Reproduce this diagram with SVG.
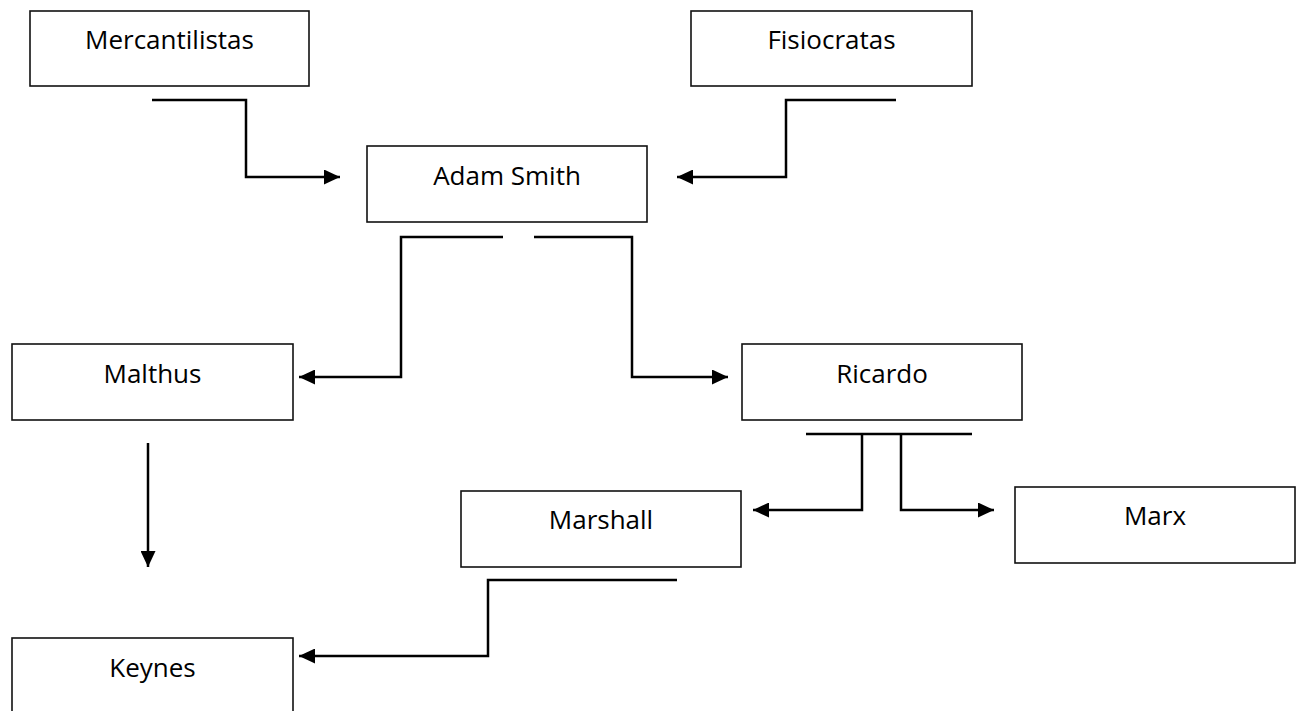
<svg xmlns="http://www.w3.org/2000/svg" width="1300" height="711" viewBox="0 0 1300 711">
<style>
.box{fill:#fff;stroke:#111;stroke-width:1.6}
.lbl{font-family:"Open Sans","Liberation Sans",sans-serif;font-size:26px;fill:#000;text-anchor:middle}
.con{fill:none;stroke:#000;stroke-width:2.5}
.arr{marker-end:url(#ah)}
</style>
<defs>
<marker id="ah" viewBox="0 0 16 15" refX="16" refY="7.5" markerWidth="16" markerHeight="15" markerUnits="userSpaceOnUse" orient="auto">
<path d="M0,0 L16,7.5 L0,15 z" fill="#000"/>
</marker>
</defs>
<rect width="1300" height="711" fill="#fff"/>
<g id="mercantilistas"><rect class="box" x="30" y="11" width="279" height="75"/><text class="lbl" x="169.5" y="49">Mercantilistas</text></g>
<g id="fisiocratas"><rect class="box" x="691" y="11" width="281" height="75"/><text class="lbl" x="831.5" y="49">Fisiocratas</text></g>
<g id="adam-smith"><rect class="box" x="367" y="146" width="280" height="76"/><text class="lbl" x="507" y="185">Adam Smith</text></g>
<g id="malthus"><rect class="box" x="12" y="344" width="281" height="76"/><text class="lbl" x="152.5" y="383">Malthus</text></g>
<g id="ricardo"><rect class="box" x="742" y="344" width="280" height="76"/><text class="lbl" x="882" y="383">Ricardo</text></g>
<g id="marshall"><rect class="box" x="461" y="491" width="280" height="76"/><text class="lbl" x="601" y="529">Marshall</text></g>
<g id="marx"><rect class="box" x="1015" y="487" width="280" height="76"/><text class="lbl" x="1155" y="525">Marx</text></g>
<g id="keynes"><rect class="box" x="12" y="638" width="281" height="76"/><text class="lbl" x="152.5" y="677">Keynes</text></g>
<g id="connectors">
<path class="con arr" d="M152,100 H246 V177 H340"/>
<path class="con arr" d="M896,100 H786 V177 H677"/>
<path class="con arr" d="M503,237 H401 V377 H299"/>
<path class="con arr" d="M534,237 H632 V377 H728"/>
<path class="con" d="M806,434 H972"/>
<path class="con arr" d="M862,434 V510 H753"/>
<path class="con arr" d="M901,434 V510 H994"/>
<path class="con arr" d="M148,443 V567"/>
<path class="con arr" d="M677,580 H488 V656 H299"/>
</g>
</svg>
